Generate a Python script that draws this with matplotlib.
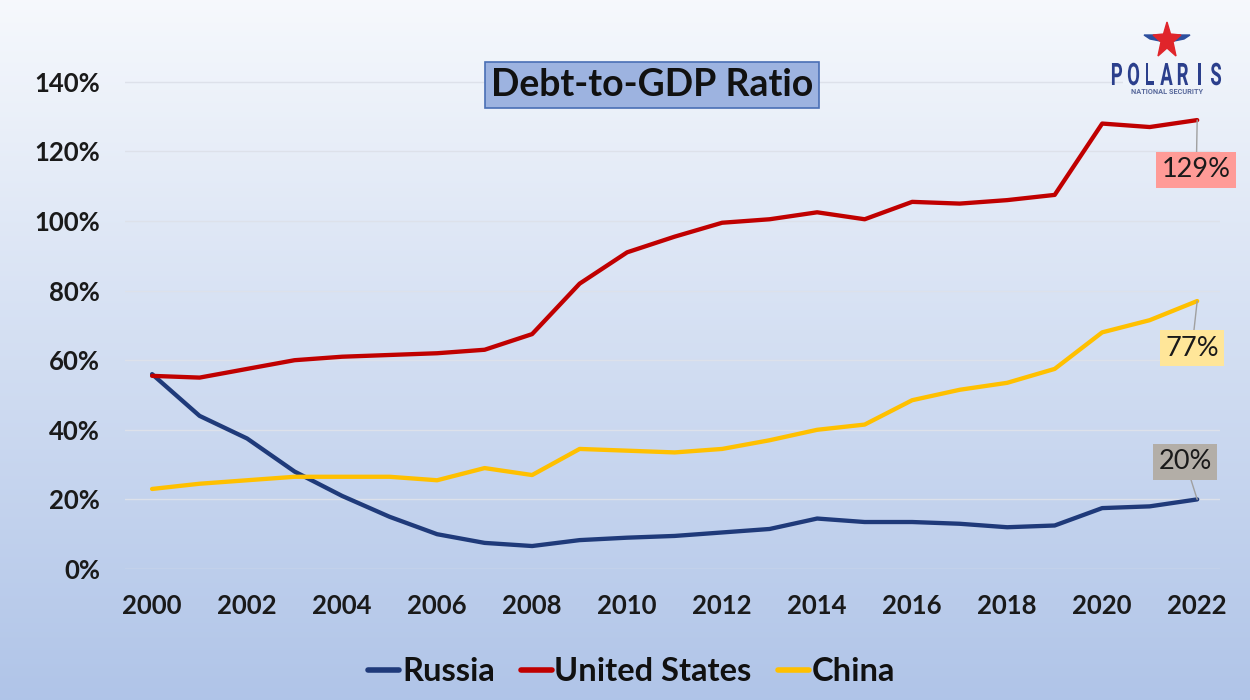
import numpy as np
import matplotlib
matplotlib.use('Agg')
import matplotlib.pyplot as plt
from matplotlib.patches import Polygon, PathPatch, Rectangle
from matplotlib.textpath import TextPath
from matplotlib.font_manager import FontProperties
from matplotlib.transforms import Affine2D

# data (debt as % of GDP)
years = list(range(2000, 2023))
russia = [56, 44, 37.5, 28, 21, 15, 10, 7.5, 6.6, 8.3, 9, 9.5, 10.5, 11.5, 14.5, 13.5, 13.5, 13, 12, 12.5, 17.5, 18, 20]
usa = [55.5, 55, 57.5, 60, 61, 61.5, 62, 63, 67.5, 82, 91, 95.5, 99.5, 100.5, 102.5, 100.5, 105.5, 105, 106, 107.5, 128, 127, 129]
china = [23, 24.5, 25.5, 26.5, 26.5, 26.5, 25.5, 29, 27, 34.5, 34, 33.5, 34.5, 37, 40, 41.5, 48.5, 51.5, 53.5, 57.5, 68, 71.5, 77]
yticks = [0, 20, 40, 60, 80, 100, 120, 140]
xticks = list(range(2000, 2023, 2))

plt.rcParams['font.family'] = ['Lato', 'DejaVu Sans']

fig = plt.figure(figsize=(12.5, 7), dpi=100)

# background gradient, white at top to light blue at bottom
top = np.array([0.965, 0.975, 0.99])
bot = np.array([0.69, 0.77, 0.91])
def bg_col(py):
    t = py / 700
    return top * (1 - t) + bot * t

bg = fig.add_axes([0, 0, 1, 1], zorder=0)
t = np.linspace(0, 1, 256)[:, None]
grad = top * (1 - t) + bot * t
bg.imshow(grad[:, None, :].repeat(2, axis=1), aspect='auto', extent=[0, 1, 0, 1])
bg.axis('off')

ax = fig.add_axes([125/1250, 131/700, 1095/1250, 522/700], zorder=1)
ax.patch.set_alpha(0)
ax.set_xlim(1999.43, 2022.48)
ax.set_ylim(0, 150)

ax.plot(years, russia, color='#1f3a7a', lw=3.1, label='Russia', solid_capstyle='round', zorder=3)
ax.plot(years, usa, color='#c00000', lw=3.1, label='United States', solid_capstyle='round', zorder=3)
ax.plot(years, china, color='#ffc000', lw=3.1, label='China', solid_capstyle='round', zorder=3)

ax.set_yticks(yticks)
ax.set_yticklabels([f'{v}%' for v in yticks])
ax.set_xticks(xticks)
ax.set_xticklabels([str(v) for v in xticks])
for lab in ax.get_xticklabels() + ax.get_yticklabels():
    lab.set_fontweight('bold')
    lab.set_fontsize(18.5)
    lab.set_color('#1a1a1a')
ax.tick_params(axis='x', length=0, pad=18)
ax.tick_params(axis='y', length=0, pad=18)
ax.grid(axis='y', color='#dde1ea', lw=1)
for s in ax.spines.values():
    s.set_visible(False)

# end labels with leader lines
def end_label(val, xy_text, fc):
    ax.annotate(f'{val:.0f}%', xy=(2022, val), xytext=xy_text, textcoords='data',
                fontsize=19.5, ha='center', va='center', color='#1a1a1a',
                bbox=dict(boxstyle='square,pad=0.2', fc=fc, ec='none'),
                arrowprops=dict(arrowstyle='-', color='#a0a0a0', lw=1, shrinkA=0, shrinkB=0),
                zorder=4)

end_label(usa[-1], (2021.98, 114.7), '#ff9b97')
end_label(china[-1], (2021.89, 63.5), '#ffe699')
end_label(russia[-1], (2021.75, 30.8), '#b3aea7')

# title box
fig.text(652/1250, 1 - 85/700, 'Debt-to-GDP Ratio', ha='center', va='center', fontsize=27,
         fontweight='bold', color='#111111',
         bbox=dict(boxstyle='square,pad=0.15', fc='#9db3e0', ec='#4a6fb5', lw=1.2), zorder=5)

# legend
leg = ax.legend(loc='center', bbox_to_anchor=(0.4626, -0.197), ncol=3, frameon=False,
                fontsize=23.5, handlelength=0.95, handletextpad=0.08, columnspacing=0.8)
for txt in leg.get_texts():
    txt.set_fontweight('bold')
    txt.set_color('#111111')
for h in leg.get_lines():
    h.set_linewidth(4)

# logo, drawn in pixel coordinates
lg = fig.add_axes([1090/1250, 1 - 110/700, 160/1250, 100/700], zorder=6)
lg.set_xlim(1090, 1250)
lg.set_ylim(110, 10)
lg.axis('off')
# the logo hides the end of the 140% gridline
lg.add_patch(Rectangle((1123, 79), 105, 6, color=bg_col(82), lw=0))
lg.add_patch(Polygon([[1144, 35], [1161, 35], [1160, 41], [1150, 39]], closed=True, color='#2d4f9e'))
lg.add_patch(Polygon([[1190, 35], [1173, 35], [1174, 41], [1184, 39]], closed=True, color='#2d4f9e'))
lg.add_patch(Polygon([[1167, 22], [1170.5, 34], [1181, 35], [1173, 42], [1176, 56], [1167, 48],
                      [1158, 56], [1161, 42], [1153, 35], [1163.5, 34]], closed=True, color='#e0252b'))
fp = FontProperties(family='Roboto', weight='bold')
for i, ch in enumerate('POLARIS'):
    tp = TextPath((0, 0), ch, size=10, prop=fp)
    ext = tp.get_extents()
    s = 22 / 7.11
    tr = Affine2D().translate(-(ext.x0 + ext.x1) / 2, 0).scale(s * 0.6, -s).translate(1117 + i * 16.5, 85)
    lg.add_patch(PathPatch(tr.transform_path(tp), color='#2b3f8c', lw=0))
lg.text(1167, 92, 'NATIONAL SECURITY', ha='center', va='center', fontsize=5.3,
        fontweight='bold', color='#5a6a9c', family='Roboto')

fig.savefig('out.png', dpi=100)
